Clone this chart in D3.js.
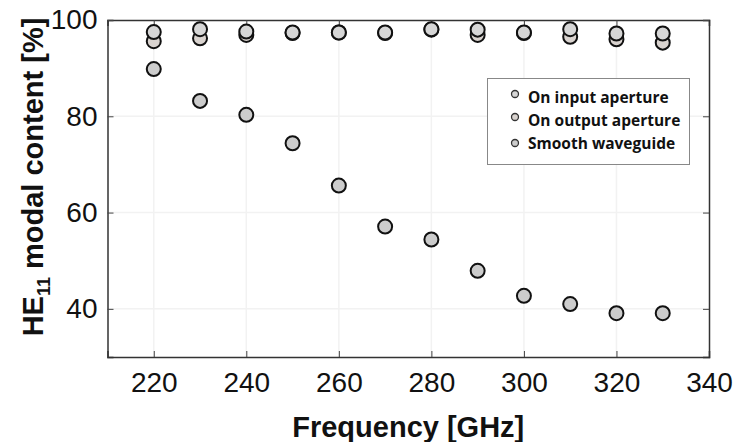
<!DOCTYPE html>
<html><head><meta charset="utf-8">
<script src="https://cdn.jsdelivr.net/npm/d3@7"></script>
<style>body{margin:0;background:#fff}</style>
</head><body>
<svg id="c" width="734" height="442"></svg>
<script>
const freqs = [220,230,240,250,260,270,280,290,300,310,320,330];
const inputAperture  = [97.5,98.1,97.6,97.4,97.4,97.4,98.1,98.0,97.4,98.1,97.2,97.2];
const outputAperture = [95.6,96.2,96.9,97.3,97.4,97.3,98.0,96.9,97.3,96.5,96.0,95.3];
const smoothWaveguide = [89.8,83.2,80.3,74.4,65.6,57.1,54.4,47.9,42.7,41.0,39.1,39.1];
const xTicks = [220,240,260,280,300,320,340];
const yTicks = [40,60,80,100];
const seriesNames = ["On input aperture","On output aperture","Smooth waveguide"];

const svg = d3.select("#c");
const L=107.5, R=709, T=20, B=357;
const x = d3.scaleLinear().domain([210,340]).range([L,R]);
const y = d3.scaleLinear().domain([30,100]).range([B,T]);

// faint grid
const g = svg.append("g");
g.selectAll(".gx").data(xTicks.filter(d=>d<340)).enter().append("line")
  .attr("x1",d=>x(d)).attr("x2",d=>x(d)).attr("y1",T).attr("y2",B)
  .attr("stroke","#f2f2f2").attr("stroke-width",1.5);
g.selectAll(".gy").data(yTicks.filter(d=>d<100)).enter().append("line")
  .attr("y1",d=>y(d)).attr("y2",d=>y(d)).attr("x1",L).attr("x2",R)
  .attr("stroke","#f2f2f2").attr("stroke-width",1.5);

// axes
const tickLen = 6;
const ax = svg.append("g").attr("transform",`translate(0,${B})`)
  .call(d3.axisBottom(x).tickValues(xTicks).tickSize(-tickLen).tickPadding(15).tickFormat(d3.format("d")));
const axTop = svg.append("g").attr("transform",`translate(0,${T})`)
  .call(d3.axisTop(x).tickValues(xTicks).tickSize(-tickLen).tickFormat(""));
const ay = svg.append("g").attr("transform",`translate(${L},0)`)
  .call(d3.axisLeft(y).tickValues(yTicks).tickSize(-tickLen).tickPadding(10).tickFormat(d3.format("d")));
const ayR = svg.append("g").attr("transform",`translate(${R},0)`)
  .call(d3.axisRight(y).tickValues(yTicks).tickSize(-tickLen).tickFormat(""));
[ax,axTop,ay,ayR].forEach(a=>{
  a.select(".domain").attr("stroke","#333").attr("stroke-width",1.5);
  a.selectAll(".tick line").attr("stroke","#444").attr("stroke-width",1);
  a.selectAll("text").attr("font-family","'Liberation Sans', Arial, sans-serif").attr("font-size",28).attr("fill","#111");
});
ax.selectAll(".tick text").attr("dy","0.71em");

// axis labels
svg.append("text").attr("x",(L+R)/2).attr("y",437).attr("text-anchor","middle")
  .attr("font-family","'Liberation Sans', Arial, sans-serif").attr("font-weight","bold").attr("font-size",29)
  .attr("fill","#111").text("Frequency [GHz]");
const yl = svg.append("text").attr("transform","translate(43,177) rotate(-90)").attr("text-anchor","middle")
  .attr("font-family","'Liberation Sans', Arial, sans-serif").attr("font-weight","bold").attr("font-size",29).attr("fill","#111");
yl.append("tspan").text("HE");
yl.append("tspan").attr("font-size",18).attr("dy",7).text("11");
yl.append("tspan").attr("dy",-7).text(" modal content [%]");

// points
const fills = ["#d6d6d6","#d9d3cf","#cccccc"];
const series = [inputAperture, outputAperture, smoothWaveguide];
[2,1,0].forEach(si=>{
  svg.append("g").selectAll("circle").data(freqs.map((f,i)=>({f,v:series[si][i]}))).enter()
    .append("circle").attr("cx",d=>x(d.f)).attr("cy",d=>y(d.v)).attr("r",7)
    .attr("fill",fills[si]).attr("stroke","#111").attr("stroke-width",2);
});

// legend
const lg = svg.append("g");
lg.append("rect").attr("x",487.5).attr("y",78.5).attr("width",202).attr("height",86)
  .attr("fill","#fff").attr("stroke","#888").attr("stroke-width",1);
seriesNames.forEach((n,i)=>{
  const yy = 98 + i*23;
  lg.append("circle").attr("cx",515).attr("cy",yy-4+(i===2?3:0)).attr("r",3.5)
    .attr("fill",fills[i]).attr("stroke","#333").attr("stroke-width",1.3);
  lg.append("text").attr("x",528).attr("y",yy+5).attr("font-family","'Open Sans', Lato, sans-serif")
    .attr("font-weight","bold").attr("font-size",15.5).attr("fill","#111").text(n);
});
</script>
</body></html>
